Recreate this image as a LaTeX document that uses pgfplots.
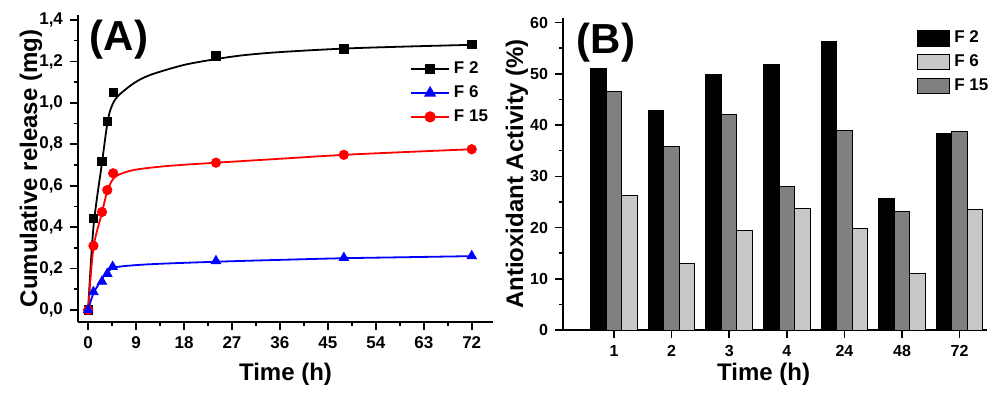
\documentclass[border=0pt]{standalone}
\usepackage{fontspec}
\setmainfont{Liberation Sans}
\usepackage{pgfplots}
\pgfplotsset{compat=1.18}
\definecolor{darkbar}{RGB}{128,128,128}
\definecolor{lightbar}{RGB}{200,200,200}
\begin{document}
\begin{tikzpicture}[font=\bfseries]
\useasboundingbox (0,0) rectangle (500pt,-196.5pt);
\pgfplotsset{
  myaxis/.style={
    scale only axis,
    axis x line*=bottom, axis y line*=left,
    axis line style={line width=1pt, black},
    tick align=outside, major tick length=4pt, minor tick length=2pt,
    every tick/.style={line width=0.8pt, black},
    /pgf/number format/assume math mode=true,
    tick label style={font=\fontsize{8.5}{10}\selectfont\bfseries},
    label style={font=\fontsize{12}{14}\selectfont\bfseries},
    legend style={draw=none, fill=none, font=\fontsize{8.5}{10}\selectfont\bfseries, row sep=0.5pt, cells={anchor=west}},
  }
}
% ---------------- Panel A ----------------
\begin{axis}[myaxis,
  at={(39pt,-161pt)}, anchor=south west, width=207.5pt, height=153.5pt,
  xmin=-1.9, xmax=76, ymin=-0.058, ymax=1.424,
  xtick={0,9,18,27,36,45,54,63,72}, ytick={0,0.2,0.4,0.6,0.8,1.0,1.2,1.4},
  minor x tick num=1, minor y tick num=1,
  yticklabel style={/pgf/number format/.cd, fixed, fixed zerofill, precision=1, use comma},
  xlabel={Time (h)}, ylabel={Cumulative release (mg)},
  xlabel style={at={(axis description cs:0.5,0)}, anchor=center, yshift=-26pt},
  ylabel style={at={(axis description cs:0,0.5)}, anchor=center, yshift=23.5pt},
  legend style={at={(axis description cs:0.785,0.875)}, anchor=north west},
  legend image code/.code={\draw[mark repeat=2,mark phase=2,#1] plot coordinates {(0pt,0pt)(9.5pt,0pt)(19pt,0pt)};},
]
\addlegendimage{black, line width=0.9pt, mark=square*, mark size=2.1pt}
\addlegendentry{F 2}
\addlegendimage{blue, line width=0.9pt, mark=triangle*, mark size=2.7pt}
\addlegendentry{F 6}
\addlegendimage{red, line width=0.9pt, mark=*, mark size=2.35pt}
\addlegendentry{F 15}
% fitted curves
\addplot[black, line width=0.9pt, smooth, forget plot] coordinates {
(0,0) (1,0.40) (2.6,0.71) (3.6,0.90) (4.3,0.975) (5.5,1.03) (8.6,1.095) (11.7,1.135) (18,1.183) (24.2,1.212) (29.2,1.23) (36,1.245) (48,1.262) (60,1.272) (72,1.28)};
\addplot[red, line width=0.9pt, smooth, forget plot] coordinates {
(0,0) (1,0.30) (2.6,0.47) (3.6,0.575) (4.5,0.625) (5.5,0.65) (8.6,0.676) (14.8,0.695) (24,0.711) (36,0.73) (48,0.749) (60,0.763) (72,0.776)};
\addplot[blue, line width=0.9pt, smooth, forget plot] coordinates {
(0,0) (1,0.08) (2.6,0.15) (3.9,0.19) (5.5,0.208) (11.7,0.221) (24,0.233) (36,0.242) (48,0.25) (60,0.255) (72,0.26)};
% data points
\addplot[only marks, mark=square*, mark size=2.1pt, black, forget plot] coordinates {
(0,0) (1,0.443) (2.6,0.716) (3.6,0.91) (4.7,1.051) (24,1.226) (48,1.261) (72,1.282)};
\addplot[only marks, mark=*, mark size=2.35pt, red, forget plot] coordinates {
(0,0) (1,0.31) (2.6,0.473) (3.6,0.579) (4.7,0.66) (24,0.711) (48,0.749) (72,0.776)};
\addplot[only marks, mark=triangle*, mark size=2.7pt, blue, forget plot] coordinates {
(0,0) (1,0.087) (2.6,0.137) (3.6,0.175) (4.6,0.209) (24,0.237) (48,0.252) (72,0.261)};
\end{axis}
\node[font=\fontsize{21}{24}\selectfont\bfseries] at (59.5pt,-20pt) {(A)};
% ---------------- Panel B ----------------
\begin{axis}[myaxis,
  at={(281.5pt,-165pt)}, anchor=south west, width=212pt, height=156pt,
  xmin=-0.885, xmax=6.475, ymin=0, ymax=60.9,
  xtick={0,1,2,3,4,5,6}, xticklabels={1,2,3,4,24,48,72},
  ytick={0,10,20,30,40,50,60}, minor y tick num=1,
  tick label style={font=\fontsize{8}{9}\selectfont\bfseries},
  xlabel={Time (h)}, ylabel={Antioxidant Activity (\%)},
  xlabel style={at={(axis description cs:0.5,0)}, anchor=center, yshift=-22pt, xshift=-5.7pt},
  ylabel style={at={(axis description cs:0,0.5)}, anchor=center, yshift=23pt},
  legend style={at={(axis description cs:0.82,0.985)}, anchor=north west},
  legend image code/.code={\draw[#1] (0pt,-3.75pt) rectangle (16pt,3.75pt);},
]
\addlegendimage{fill=black, draw=black, line width=0.6pt}
\addlegendentry{F 2}
\addlegendimage{fill=lightbar, draw=black, line width=0.6pt}
\addlegendentry{F 6}
\addlegendimage{fill=darkbar, draw=black, line width=0.6pt}
\addlegendentry{F 15}
\addplot[ybar, bar width=7.78pt, bar shift=-7.78pt, fill=black, draw=black, line width=0.5pt, forget plot] coordinates {
(0,51.1) (1,42.9) (2,49.8) (3,51.9) (4,56.3) (5,25.7) (6,38.4)};
\addplot[ybar, bar width=7.78pt, bar shift=0pt, fill=darkbar, draw=black, line width=0.5pt, forget plot] coordinates {
(0,46.5) (1,35.8) (2,42.0) (3,28.1) (4,39.0) (5,23.2) (6,38.8)};
\addplot[ybar, bar width=7.78pt, bar shift=7.78pt, fill=lightbar, draw=black, line width=0.5pt, forget plot] coordinates {
(0,26.2) (1,12.9) (2,19.4) (3,23.7) (4,19.8) (5,11.1) (6,23.6)};
\end{axis}
\node[font=\fontsize{21}{24}\selectfont\bfseries] at (303pt,-21.5pt) {(B)};
\end{tikzpicture}
\end{document}
